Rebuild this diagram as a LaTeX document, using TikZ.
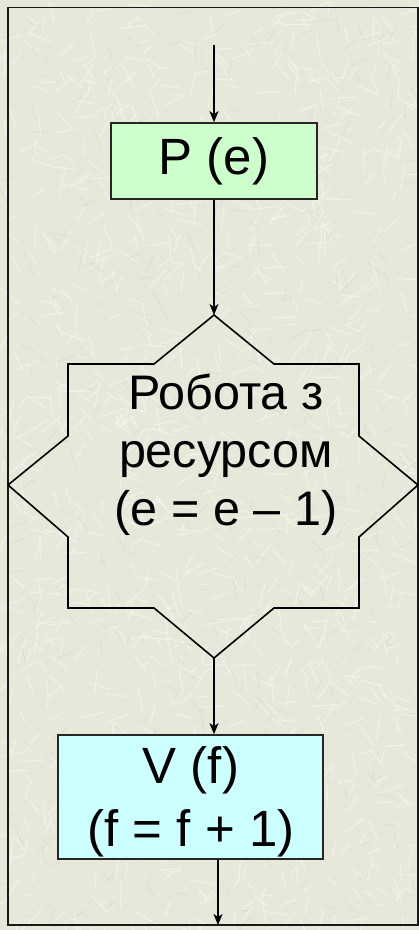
\documentclass[tikz,border=0pt]{standalone}
\usepackage{fontspec}
\setmainfont{Liberation Sans}
\usetikzlibrary{arrows.meta}
\definecolor{bgbase}{RGB}{231,231,218}
\definecolor{bgstroke}{RGB}{246,246,238}
\definecolor{bgdark}{RGB}{216,216,200}
\definecolor{boxgreen}{RGB}{204,255,204}
\definecolor{boxcyan}{RGB}{204,255,255}
\tikzset{
  flowbox/.style={draw=black!85, line width=1.6pt, inner sep=0pt, align=center},
  flowline/.style={draw=black, line width=1.6pt},
  flowarrow/.style={flowline, -{Stealth[length=11pt,width=9pt,inset=3pt]}},
  bigtext/.style={font=\fontsize{51}{63}\selectfont},
  startext/.style={font=\fontsize{48.5}{58}\selectfont, align=center, inner sep=0pt}
}
\begin{document}
\begin{tikzpicture}[x=1pt,y=-1pt]
  \useasboundingbox (0,0) rectangle (419,930);
  % textured background
  \fill[bgbase] (0,0) rectangle (419,930);
  \begin{scope}
    \clip (0,0) rectangle (419,930);
    \pgfmathsetseed{4242}
    \foreach \i in {1,...,1100} {
      \draw[bgstroke, line width=1.1pt, opacity=0.7]
        ({419*rnd},{930*rnd}) -- ++({180*rnd-30}:{10+18*rnd});
    }
    \foreach \i in {1,...,300} {
      \draw[bgdark, line width=0.9pt, opacity=0.5]
        ({419*rnd},{930*rnd}) -- ++({360*rnd}:{8+12*rnd});
    }
  \end{scope}
  % frame
  \draw[line width=1.6pt, black!90] (8,7.5) rectangle (418,925);

  % nodes
  \coordinate (start) at (214,45);
  \node[flowbox, fill=boxgreen, minimum width=206pt, minimum height=76pt, bigtext]
    (pe) at (214,161) {P (e)};

  % star shape
  \coordinate (startop) at (214,315);
  \coordinate (starbot) at (214,658);
  \draw[line width=1.6pt, black]
    (214,315) -- (274,364) -- (359,364) -- (359,436) -- (418,485) -- (359,537)
    -- (359,608) -- (274,608) -- (214,658) -- (154,608) -- (68,608) -- (68,537)
    -- (8,485) -- (68,436) -- (68,364) -- (154,364) -- cycle;
  \node[startext] (work) at (226,455) {Робота з\\ресурсом\\(е = е – 1)};

  \node[flowbox, fill=boxcyan, minimum width=265pt, minimum height=124pt]
    (vf) at (190.5,797) {};
  \node[bigtext, align=center, inner sep=0pt] (vftext) at (191,802) {V (f)\\(f = f + 1)};
  \coordinate (vfout) at (218,859);
  \coordinate (finish) at (218,925);

  % connectors
  \draw[flowarrow] (start) -- (pe.north);
  \draw[flowarrow] (pe.south) -- (startop);
  \draw[flowarrow] (starbot) -- (vf.north -| starbot);
  \draw[flowarrow] (vf.south -| vfout) -- (finish);
\end{tikzpicture}
\end{document}
